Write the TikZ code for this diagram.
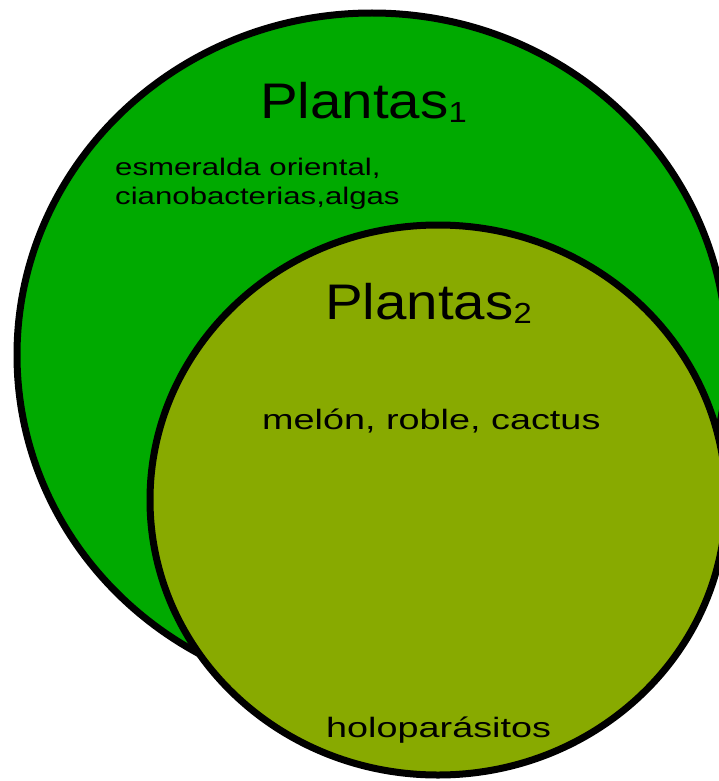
\documentclass[tikz,border=0pt]{standalone}
\usepackage{fontspec}
\usepackage{tikz}
\usepackage{xcolor}
\setmainfont{Liberation Sans}
\newfontfamily\titlefont[FakeStretch=1.13]{Liberation Sans}
\newfontfamily\itemfont[FakeStretch=1.35]{Liberation Sans}
\newfontfamily\smallfont[FakeStretch=1.3]{Liberation Sans}
\definecolor{plantgreen}{RGB}{0,170,0}
\definecolor{plantolive}{RGB}{136,170,0}

\begin{document}
\begin{tikzpicture}[x=1pt,y=-1pt,
        setline/.style={line width=7pt, draw=black},
        title/.style={anchor=base west, inner sep=0pt, font=\titlefont\fontsize{50}{50}\selectfont},
        item/.style={anchor=base west, inner sep=0pt, font=\itemfont\fontsize{28}{30}\selectfont},
        smallitem/.style={anchor=base west, inner sep=0pt, font=\smallfont\fontsize{24}{29}\selectfont}]
                % Frame
                \useasboundingbox (0,0) rectangle (719,781);
                \clip (0,0) rectangle (719,781);

                % Sets
                \filldraw[setline, fill=plantgreen] (372,355) ellipse [x radius=355pt, y radius=342pt];
                \filldraw[setline, fill=plantolive] (438,500) ellipse [x radius=288pt, y radius=275pt];

                % Set names
                \node[title] (plantas1) at (260,118) {Plantas\raisebox{-4pt}{\fontsize{29}{29}\selectfont 1}};
                \node[title] (plantas2) at (325,319) {Plantas\raisebox{-4pt}{\fontsize{29}{29}\selectfont 2}};

                % Members
                \node[smallitem] (esmeralda) at (115,175) {esmeralda oriental,};
                \node[smallitem] (ciano) at (115,204) {cianobacterias,algas};
                \node[item] (melon) at (262,429) {melón, roble, cactus};
                \node[item] (holo) at (326,737) {holoparásitos};
            \end{tikzpicture}
\end{document}
